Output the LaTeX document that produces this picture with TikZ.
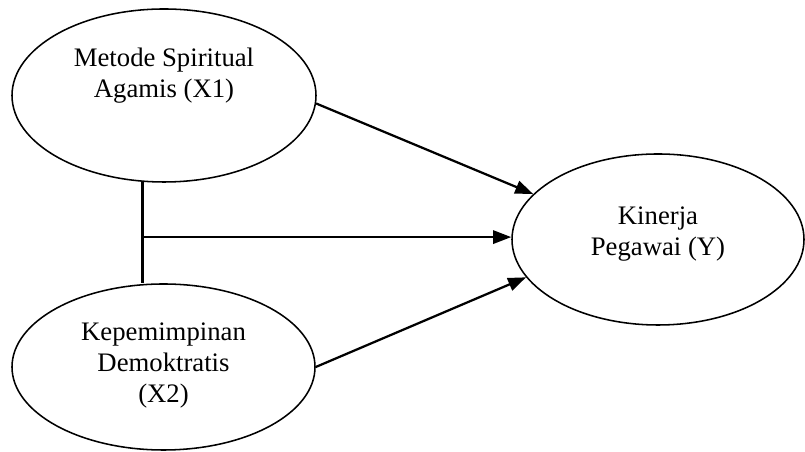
\documentclass[tikz,border=0pt]{standalone}
\usepackage{fontspec}
\setmainfont{Liberation Serif}
\usetikzlibrary{arrows.meta,positioning,shapes.geometric,calc}

\begin{document}
\begin{tikzpicture}[font=\fontsize{19}{21.8}\selectfont,
		var/.style={ellipse,draw,line width=1.1pt,inner sep=0pt},
		lbl/.style={align=center,inner sep=0pt},
		joinline/.style={line width=1.6pt},
		dirarrow/.style={line width=1.6pt,-{Triangle[length=0.45cm,width=0.33cm]}}]
		\useasboundingbox (0,0) rectangle (20.125,11.3);
		\node[var,minimum width=7.6cm,minimum height=4.325cm] (x1) at (4.1,8.9125) {};
		\node[var,minimum width=7.575cm,minimum height=4.15cm] (x2) at (4.0875,2.125) {};
		\node[var,minimum width=7.3cm,minimum height=4.275cm] (y) at (16.45,5.3125) {};
		\node[lbl] (x1txt) at ([yshift=0.49cm]x1.center) {Metode Spiritual\\Agamis (X1)};
		\node[lbl] (x2txt) at ([yshift=0.04cm]x2.center) {Kepemimpinan\\Demoktratis\\(X2)};
		\node[lbl] (ytxt) at ([yshift=0.14cm]y.center) {Kinerja\\Pegawai (Y)};
		\draw[joinline] (x1.-104) -- (x1.-104 |- x2.north);
		\coordinate (jn) at ([yshift=0.06cm]x1.-104 |- y.west);
		\draw[dirarrow] (jn) -- (jn -| y.west);
		\draw[dirarrow] (x1.-3) -- (y.160);
		\draw[dirarrow] (x2.east) -- (y.196);
\end{tikzpicture}
\end{document}
